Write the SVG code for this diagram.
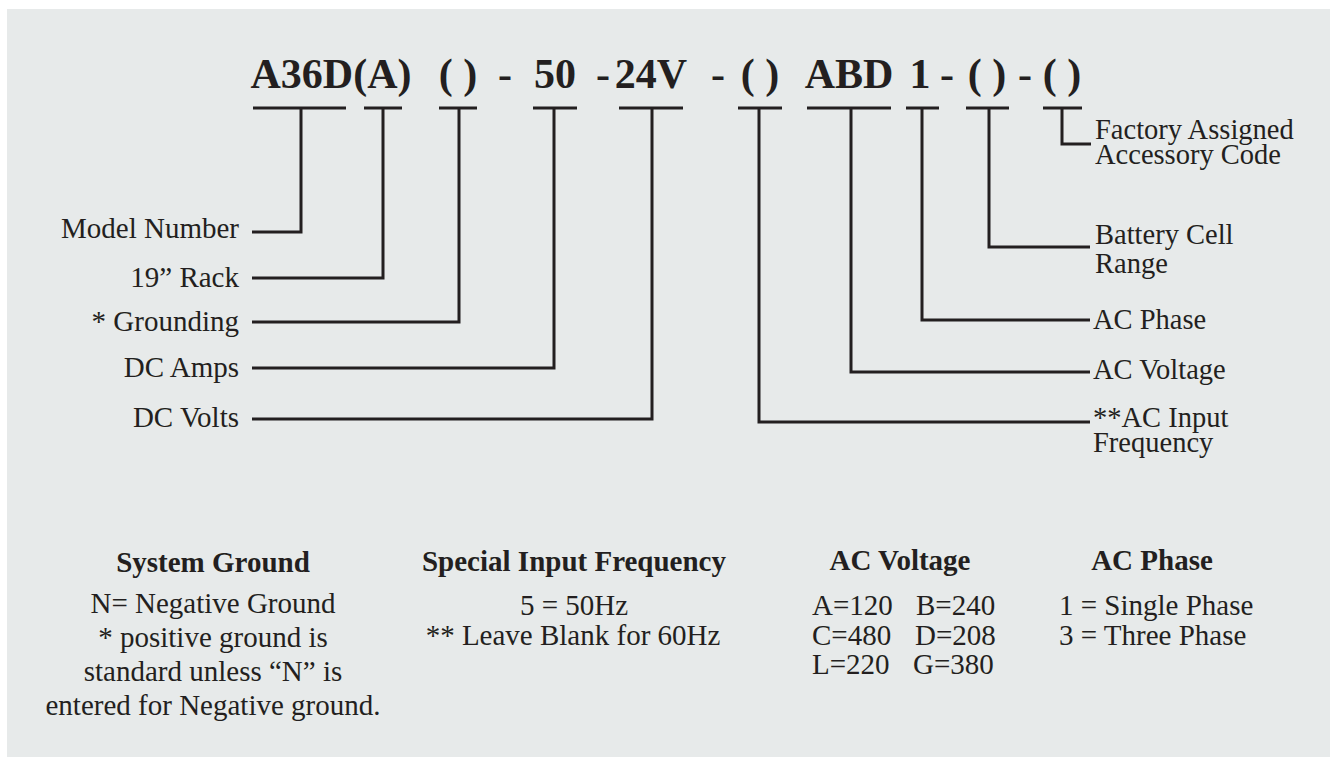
<svg xmlns="http://www.w3.org/2000/svg" width="1330" height="757" viewBox="0 0 1330 757">
<style>
.bg{fill:#e7eaea}
.t{font-family:"Liberation Serif","Times New Roman",serif;fill:#231f20}
.title{font-size:42px;font-weight:bold;text-anchor:middle}
.lbl{font-size:29px}
.rl{font-size:28.5px}
.r{text-anchor:end}
.h{font-size:29px;font-weight:bold;text-anchor:middle}
.b{font-size:29px}
.c{text-anchor:middle}
.ln{fill:none;stroke:#231f20;stroke-width:3}
</style>
<rect x="0" y="0" width="1330" height="757" fill="#ffffff"/>
<rect class="bg" x="7" y="9" width="1323" height="748"/>
<g id="code">
<text class="t title" y="88"><tspan x="331">A36D(A)</tspan><tspan x="458">( )</tspan><tspan x="505">-</tspan><tspan x="555">50</tspan><tspan x="603">-</tspan><tspan x="651">24V</tspan><tspan x="718">-</tspan><tspan x="760">( )</tspan><tspan x="849">ABD</tspan><tspan x="920">1</tspan><tspan x="947">-</tspan><tspan x="987">( )</tspan><tspan x="1025">-</tspan><tspan x="1062">( )</tspan></text>
</g>
<g id="connectors" class="ln">
<path d="M253 108H346M301 108V232H252"/>
<path d="M364 108H402M383 108V278H252"/>
<path d="M439 108H477M459 108V322H252"/>
<path d="M533 108H577M554 108V368H252"/>
<path d="M619 108H683M652 108V419H252"/>
<path d="M738 108H782M759 108V422H1090"/>
<path d="M807 108H891M851 108V372H1090"/>
<path d="M906 108H939M922 108V320H1090"/>
<path d="M966 108H1009M989 108V247H1090"/>
<path d="M1043 108H1082M1062 108V144H1091"/>
</g>
<g id="left-labels">
<text class="t lbl r" x="239" y="238">Model Number</text>
<text class="t lbl r" x="239" y="287">19” Rack</text>
<text class="t lbl r" x="239" y="331">* Grounding</text>
<text class="t lbl r" x="239" y="377">DC Amps</text>
<text class="t lbl r" x="239" y="427">DC Volts</text>
</g>
<g id="right-labels">
<text class="t rl" x="1095" y="139">Factory Assigned</text>
<text class="t rl" x="1095" y="164">Accessory Code</text>
<text class="t rl" x="1095" y="244">Battery Cell</text>
<text class="t rl" x="1095" y="273">Range</text>
<text class="t rl" x="1093" y="329">AC Phase</text>
<text class="t rl" x="1093" y="379">AC Voltage</text>
<text class="t rl" x="1093" y="427">**AC Input</text>
<text class="t rl" x="1093" y="452">Frequency</text>
</g>
<g id="system-ground">
<text class="t h" x="213" y="572">System Ground</text>
<text class="t b c" x="213" y="613">N= Negative Ground</text>
<text class="t b c" x="213" y="647">* positive ground is</text>
<text class="t b c" x="213" y="681">standard unless “N” is</text>
<text class="t b c" x="213" y="715">entered for Negative ground.</text>
</g>
<g id="special-input-frequency">
<text class="t h" x="574" y="571">Special Input Frequency</text>
<text class="t b c" x="574" y="615">5 = 50Hz</text>
<text class="t b c" x="573" y="645">** Leave Blank for 60Hz</text>
</g>
<g id="ac-voltage">
<text class="t h" x="900" y="570">AC Voltage</text>
<text class="t b" x="812" y="615">A=120</text>
<text class="t b" x="916" y="615">B=240</text>
<text class="t b" x="812" y="645">C=480</text>
<text class="t b" x="915" y="645">D=208</text>
<text class="t b" x="812" y="674">L=220</text>
<text class="t b" x="913" y="674">G=380</text>
</g>
<g id="ac-phase">
<text class="t h" x="1152" y="570">AC Phase</text>
<text class="t b" x="1059" y="615">1 = Single Phase</text>
<text class="t b" x="1059" y="645">3 = Three Phase</text>
</g>
</svg>
